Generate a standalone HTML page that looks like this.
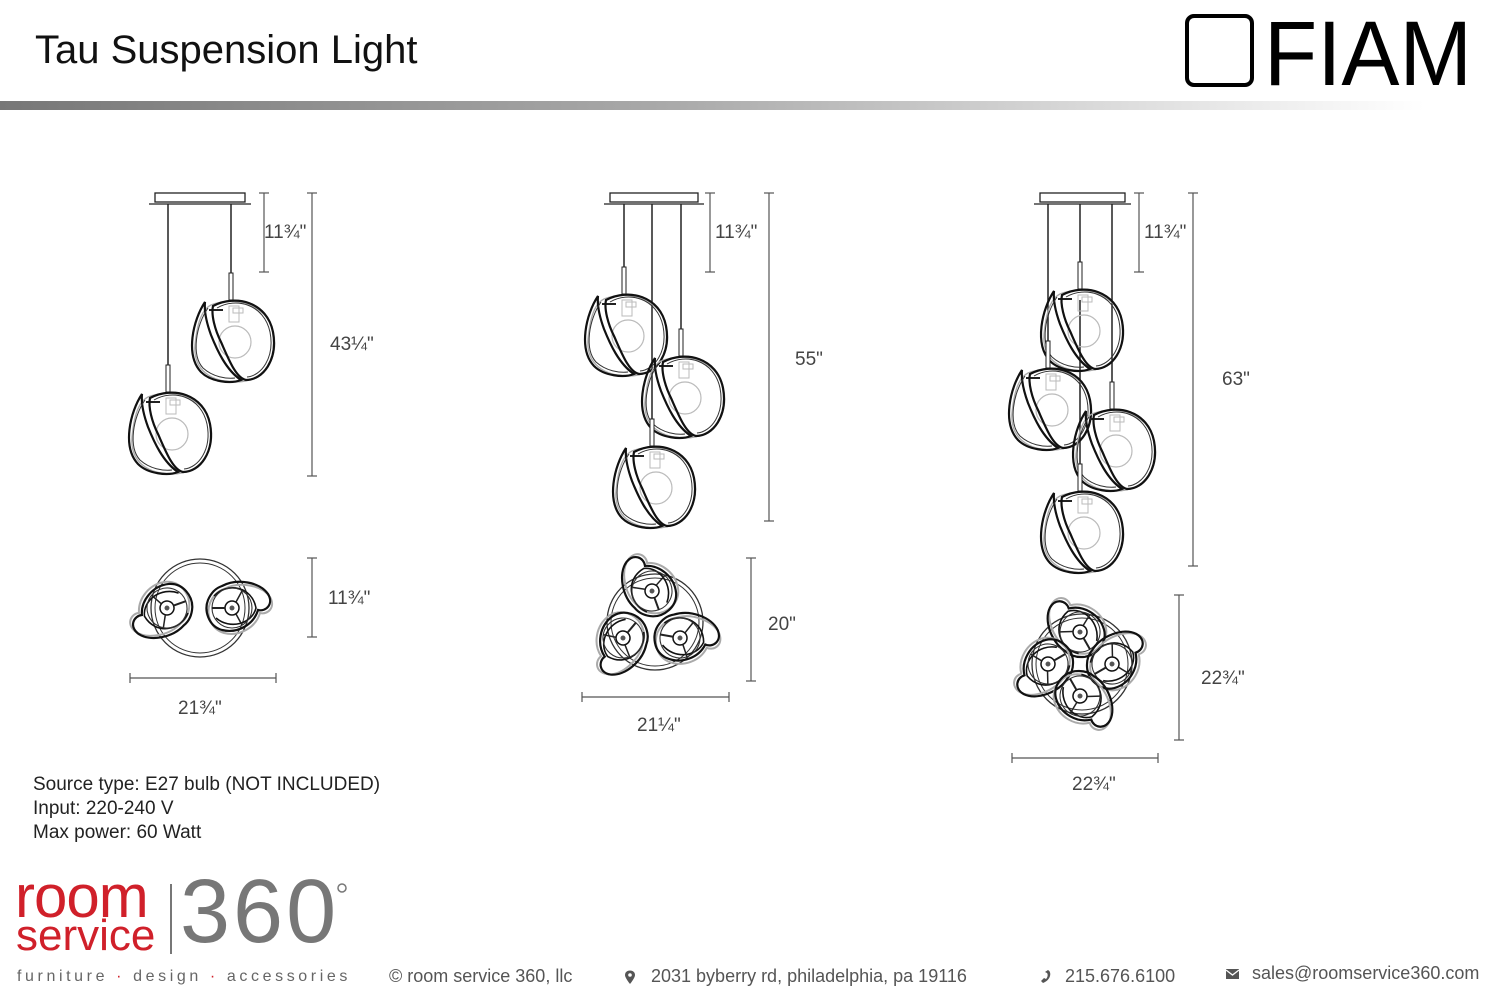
<!DOCTYPE html>
<html><head><meta charset="utf-8"><style>
html,body{margin:0;padding:0;background:#fff;}
body{width:1500px;height:1000px;position:relative;overflow:hidden;font-family:"Liberation Sans",sans-serif;}
.t{position:absolute;white-space:nowrap;}
</style></head><body>
<svg width="1500" height="1000" style="position:absolute;left:0;top:0" xmlns="http://www.w3.org/2000/svg">
<defs>
<linearGradient id="bar" x1="0" x2="1" y1="0" y2="0">
<stop offset="0" stop-color="#777"/><stop offset="0.45" stop-color="#aaa"/><stop offset="0.95" stop-color="#fff"/>
</linearGradient>
<g id="globe">
<rect x="-2" y="-27" width="4" height="27" fill="#fff" stroke="#222" stroke-width="1"/>
<path d="M-20,5 C5,-5 38,5 43,35 C47,62 30,82 5,82 C-20,82 -38,70 -36,45 C-34,25 -30,10 -20,5 Z" fill="none" stroke="#aaa" stroke-width="1.3"/>
<circle cx="4" cy="42" r="16" fill="none" stroke="#bbb" stroke-width="1.2"/>
<rect x="-2" y="6" width="10" height="16" fill="none" stroke="#bbb" stroke-width="1"/>
<rect x="2" y="8" width="10" height="5" fill="none" stroke="#bbb" stroke-width="1"/>
<line x1="-22" y1="10" x2="-8" y2="10" stroke="#222" stroke-width="2"/>
<path d="M-18,6 C5,-6 36,2 42,32 C47,60 32,80 15,80 C5,78 -2,60 -10,42 C-16,30 -20,15 -18,6 Z" fill="none" stroke="#111" stroke-width="2.2"/>
<path d="M-14,8 C5,-3 33,4 39,32 C44,58 30,76 16,77" fill="none" stroke="#333" stroke-width="1"/>
<path d="M-26,2 C-38,20 -46,55 -30,72 C-20,82 0,84 10,80 C-5,70 -14,50 -20,35 C-24,24 -27,12 -26,2 Z" fill="none" stroke="#111" stroke-width="2.2"/>
<path d="M-23,8 C-35,25 -40,55 -28,68 C-18,77 -5,79 4,78" fill="none" stroke="#333" stroke-width="1"/>
</g>
<g id="tu">
<path d="M-10,-22 C5,-30 28,-26 36,-14 C42,-4 34,4 26,2 C22,16 6,26 -10,22 C-24,18 -28,2 -24,-8 C-21,-15 -16,-20 -10,-22 Z" fill="none" stroke="#aaa" stroke-width="2" transform="translate(2,3)"/>
<path d="M-10,-22 C5,-30 28,-26 36,-14 C42,-4 34,4 26,2 C22,16 6,26 -10,22 C-24,18 -28,2 -24,-8 C-21,-15 -16,-20 -10,-22 Z" fill="none" stroke="#111" stroke-width="2.2"/>
<path d="M-18,-12 C-5,-26 20,-22 24,0 C20,16 -2,22 -16,10" fill="none" stroke="#111" stroke-width="1.6"/>
<circle r="20" fill="none" stroke="#333" stroke-width="1.1"/>
<circle r="7" fill="#fff" stroke="#111" stroke-width="1.5"/>
<circle r="2.5" fill="#555"/>
<line x1="-7" y1="0" x2="-20" y2="0" stroke="#222" stroke-width="2"/>
<line x1="4" y1="6" x2="10" y2="17" stroke="#222" stroke-width="1.5"/>
<line x1="4" y1="-6" x2="10" y2="-17" stroke="#222" stroke-width="1.5"/>
</g>
</defs>
<rect x="0" y="101" width="1500" height="9" fill="url(#bar)"/>
<rect x="1187" y="16" width="65" height="69" rx="7" fill="none" stroke="#000" stroke-width="4"/>
<text x="1264" y="85" font-family="Liberation Sans, sans-serif" font-size="92" textLength="208" lengthAdjust="spacingAndGlyphs" fill="#000" transform="translate(0,0)">FIAM</text>

<g stroke="#555" stroke-width="1.2" fill="none">
<line x1="264" y1="193" x2="264" y2="272"/><line x1="259" y1="193" x2="269" y2="193"/><line x1="259" y1="272" x2="269" y2="272"/>
<line x1="312" y1="193" x2="312" y2="476"/><line x1="307" y1="193" x2="317" y2="193"/><line x1="307" y1="476" x2="317" y2="476"/>
<line x1="312" y1="558" x2="312" y2="637"/><line x1="307" y1="558" x2="317" y2="558"/><line x1="307" y1="637" x2="317" y2="637"/>
<line x1="130" y1="678" x2="276" y2="678"/><line x1="130" y1="673" x2="130" y2="683"/><line x1="276" y1="673" x2="276" y2="683"/>
<line x1="710" y1="193" x2="710" y2="272"/><line x1="705" y1="193" x2="715" y2="193"/><line x1="705" y1="272" x2="715" y2="272"/>
<line x1="769" y1="193" x2="769" y2="521"/><line x1="764" y1="193" x2="774" y2="193"/><line x1="764" y1="521" x2="774" y2="521"/>
<line x1="751" y1="558" x2="751" y2="681"/><line x1="746" y1="558" x2="756" y2="558"/><line x1="746" y1="681" x2="756" y2="681"/>
<line x1="582" y1="697" x2="729" y2="697"/><line x1="582" y1="692" x2="582" y2="702"/><line x1="729" y1="692" x2="729" y2="702"/>
<line x1="1139" y1="193" x2="1139" y2="272"/><line x1="1134" y1="193" x2="1144" y2="193"/><line x1="1134" y1="272" x2="1144" y2="272"/>
<line x1="1193" y1="193" x2="1193" y2="566"/><line x1="1188" y1="193" x2="1198" y2="193"/><line x1="1188" y1="566" x2="1198" y2="566"/>
<line x1="1179" y1="595" x2="1179" y2="740"/><line x1="1174" y1="595" x2="1184" y2="595"/><line x1="1174" y1="740" x2="1184" y2="740"/>
<line x1="1012" y1="758" x2="1158" y2="758"/><line x1="1012" y1="753" x2="1012" y2="763"/><line x1="1158" y1="753" x2="1158" y2="763"/>
</g>

<g fill="#fff" stroke="#222" stroke-width="1.3">
<rect x="155" y="193" width="90" height="9"/><line x1="149" y1="204" x2="251" y2="204"/>
<rect x="610" y="193" width="88" height="9"/><line x1="604" y1="204" x2="704" y2="204"/>
<rect x="1040" y="193" width="85" height="9"/><line x1="1034" y1="204" x2="1131" y2="204"/>
</g>
<g stroke="#222" stroke-width="1.5">
<line x1="168" y1="204" x2="168" y2="366"/><line x1="231" y1="204" x2="231" y2="273"/>
<line x1="624" y1="204" x2="624" y2="268"/><line x1="681" y1="204" x2="681" y2="330"/><line x1="652" y1="204" x2="652" y2="420"/>
<line x1="1048" y1="204" x2="1048" y2="342"/><line x1="1080" y1="204" x2="1080" y2="263"/><line x1="1112" y1="204" x2="1112" y2="383"/><line x1="1080" y1="300" x2="1080" y2="465"/>
</g>
<use href="#globe" x="168" y="392"/>
<use href="#globe" x="231" y="300"/>
<use href="#globe" x="624" y="294"/>
<use href="#globe" x="681" y="356"/>
<use href="#globe" x="652" y="446"/>
<use href="#globe" x="1080" y="289"/>
<use href="#globe" x="1048" y="368"/>
<use href="#globe" x="1112" y="409"/>
<use href="#globe" x="1080" y="491"/>

<circle cx="200" cy="608" r="49" fill="none" stroke="#333" stroke-width="1.3"/>
<circle cx="200" cy="608" r="45" fill="none" stroke="#333" stroke-width="1"/>
<g transform="translate(167,608) rotate(160)"><use href="#tu"/></g>
<g transform="translate(232,608) rotate(0)"><use href="#tu"/></g>

<circle cx="655" cy="622" r="48" fill="none" stroke="#333" stroke-width="1.3"/>
<circle cx="655" cy="622" r="44" fill="none" stroke="#333" stroke-width="1"/>
<g transform="translate(652,591) rotate(-110)"><use href="#tu"/></g>
<g transform="translate(623,638) rotate(130)"><use href="#tu"/></g>
<g transform="translate(680,638) rotate(10)"><use href="#tu"/></g>

<circle cx="1082" cy="664" r="50" fill="none" stroke="#333" stroke-width="1.3"/>
<circle cx="1082" cy="664" r="46" fill="none" stroke="#333" stroke-width="1"/>
<g transform="translate(1080,632) rotate(-120)"><use href="#tu"/></g>
<g transform="translate(1048,664) rotate(150)"><use href="#tu"/></g>
<g transform="translate(1112,664) rotate(-30)"><use href="#tu"/></g>
<g transform="translate(1080,696) rotate(60)"><use href="#tu"/></g>

<path d="M625,975 C625,969 635,969 635,975 C635,978 630,984 630,984 C630,984 625,978 625,975 Z" fill="#555"/>
<circle cx="630" cy="975" r="1.8" fill="#fff"/>
<path d="M1048,970 C1052,972 1051,980 1043,983 L1041,981 L1044,978 L1046,979 C1048,977 1048,974 1047,973 L1045,972 Z" fill="#555"/>
<rect x="1226" y="969" width="13" height="10" fill="#555"/>
<path d="M1226,970 L1232.5,975 L1239,970" stroke="#fff" stroke-width="1.3" fill="none"/>
<line x1="171" y1="884" x2="171" y2="954" stroke="#777" stroke-width="2"/>
<circle cx="342" cy="888" r="4" fill="none" stroke="#777" stroke-width="1.5"/>
</svg>

<div class="t" style="left:35px;top:28px;font-size:40px;color:#111;">Tau Suspension Light</div>

<div class="t" style="left:264px;top:222px;font-size:19px;color:#444;">11¾"</div>
<div class="t" style="left:330px;top:334px;font-size:19px;color:#444;">43¼"</div>
<div class="t" style="left:328px;top:588px;font-size:19px;color:#444;">11¾"</div>
<div class="t" style="left:178px;top:698px;font-size:19px;color:#444;">21¾"</div>

<div class="t" style="left:715px;top:222px;font-size:19px;color:#444;">11¾"</div>
<div class="t" style="left:795px;top:349px;font-size:19px;color:#444;">55"</div>
<div class="t" style="left:768px;top:614px;font-size:19px;color:#444;">20"</div>
<div class="t" style="left:637px;top:715px;font-size:19px;color:#444;">21¼"</div>

<div class="t" style="left:1144px;top:222px;font-size:19px;color:#444;">11¾"</div>
<div class="t" style="left:1222px;top:369px;font-size:19px;color:#444;">63"</div>
<div class="t" style="left:1201px;top:668px;font-size:19px;color:#444;">22¾"</div>
<div class="t" style="left:1072px;top:774px;font-size:19px;color:#444;">22¾"</div>

<div class="t" style="left:33px;top:773px;font-size:19px;line-height:24px;color:#222;">Source type: E27 bulb (NOT INCLUDED)<br>Input: 220-240 V<br>Max power: 60 Watt</div>

<div class="t" style="left:15px;top:872px;font-size:60px;line-height:50px;color:#d0202a;letter-spacing:-1px;">room</div>
<div class="t" style="left:16px;top:916px;font-size:44px;line-height:40px;color:#d0202a;letter-spacing:0px;">service</div>
<div class="t" style="left:180px;top:866px;font-size:90px;line-height:92px;color:#777;letter-spacing:3px;">360</div>
<div class="t" style="left:17px;top:968px;font-size:16px;color:#666;letter-spacing:3.6px;">furniture <span style="color:#d0202a">·</span> design <span style="color:#d0202a">·</span> accessories</div>
<div class="t" style="left:389px;top:966px;font-size:18px;color:#555;">© room service 360, llc</div>
<div class="t" style="left:651px;top:966px;font-size:18px;color:#555;">2031 byberry rd, philadelphia, pa 19116</div>
<div class="t" style="left:1065px;top:966px;font-size:18px;color:#555;">215.676.6100</div>
<div class="t" style="left:1252px;top:963px;font-size:18px;color:#555;">sales@roomservice360.com</div>
</body></html>
